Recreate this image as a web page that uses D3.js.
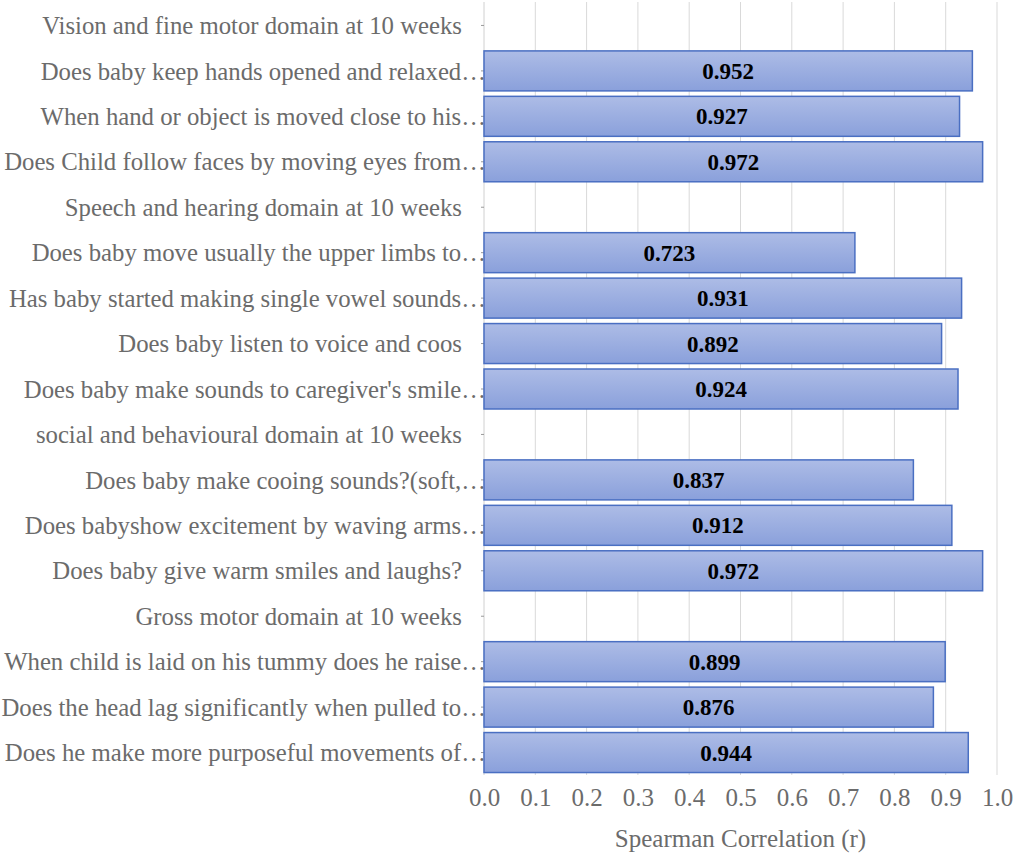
<!DOCTYPE html>
<html>
<head>
<meta charset="utf-8">
<script src="https://cdn.jsdelivr.net/npm/d3@7"></script>
<style>
  body { margin: 0; background: #fff; }
  text { font-family: "Liberation Serif", "Times New Roman", serif; }
</style>
</head>
<body>
<svg id="chart"></svg>
<script>
// rows top to bottom, domain headings have no value
const categories = [
  "Vision and fine motor domain at 10 weeks",
  "Does baby keep hands opened and relaxed…",
  "When hand or object is moved close to his…",
  "Does Child follow faces by moving eyes from…",
  "Speech and hearing domain at 10 weeks",
  "Does baby move usually the upper limbs to…",
  "Has baby started making single vowel sounds…",
  "Does baby listen to voice and coos",
  "Does baby make sounds to caregiver's smile…",
  "social and behavioural domain at 10 weeks",
  "Does baby make cooing sounds?(soft,…",
  "Does babyshow excitement by waving arms…",
  "Does baby give warm smiles and laughs?",
  "Gross motor domain at 10 weeks",
  "When child is laid on his tummy does he raise…",
  "Does the head lag significantly when pulled to…",
  "Does he make more purposeful movements of…"
];
const values = [null, 0.952, 0.927, 0.972, null, 0.723, 0.931, 0.892, 0.924,
                null, 0.837, 0.912, 0.972, null, 0.899, 0.876, 0.944];
const xTicks = [0, 0.1, 0.2, 0.3, 0.4, 0.5, 0.6, 0.7, 0.8, 0.9, 1.0];
const xTitle = "Spearman Correlation (r)";

const width = 1013, height = 856;
const margin = {top: 0, right: 16, bottom: 78, left: 484};

const data = categories.map((c, i) => ({name: c, value: values[i]}));

const svg = d3.select("#chart")
    .attr("width", width)
    .attr("height", height);

const defs = svg.append("defs");
const grad = defs.append("linearGradient")
    .attr("id", "barGrad")
    .attr("x1", 0).attr("y1", 0).attr("x2", 0).attr("y2", 1);
grad.append("stop").attr("offset", "0%").attr("stop-color", "#adbce6");
grad.append("stop").attr("offset", "100%").attr("stop-color", "#8aa0db");

const x = d3.scaleLinear()
    .domain([0, 1])
    .range([margin.left, width - margin.right]);

const y = d3.scaleBand()
    .domain(categories)
    .range([0, 778])
    .padding(0.12);

const plotBottom = 775;

// vertical gridlines
svg.append("g")
    .attr("class", "grid")
  .selectAll("line")
  .data(xTicks.slice(1))
  .join("line")
    .attr("x1", d => x(d)).attr("x2", d => x(d))
    .attr("y1", 2).attr("y2", plotBottom)
    .attr("stroke", "#d9d9d9")
    .attr("stroke-width", 1);

// category axis line
svg.append("line")
    .attr("x1", x(0)).attr("x2", x(0))
    .attr("y1", 2).attr("y2", plotBottom)
    .attr("stroke", "#d0d0d0")
    .attr("stroke-width", 1);

// small tick marks at the category centres
svg.append("g")
  .selectAll("line")
  .data(data)
  .join("line")
    .attr("x1", x(0) - 3).attr("x2", x(0))
    .attr("y1", d => y(d.name) + y.bandwidth() / 2)
    .attr("y2", d => y(d.name) + y.bandwidth() / 2)
    .attr("stroke", "#999")
    .attr("stroke-width", 1);

// bars
const withVal = data.filter(d => d.value != null);
svg.append("g")
    .attr("class", "bars")
  .selectAll("rect")
  .data(withVal)
  .join("rect")
    .attr("x", x(0))
    .attr("y", d => y(d.name))
    .attr("width", d => x(d.value) - x(0))
    .attr("height", y.bandwidth())
    .attr("fill", "url(#barGrad)")
    .attr("stroke", "#4a6fc2")
    .attr("stroke-width", 1.5);

// value labels in the middle of each bar
svg.append("g")
  .selectAll("text")
  .data(withVal)
  .join("text")
    .attr("x", d => (x(0) + x(d.value)) / 2)
    .attr("y", d => y(d.name) + y.bandwidth() / 2)
    .attr("dy", "0.35em")
    .attr("text-anchor", "middle")
    .attr("font-size", 23)
    .attr("font-weight", "bold")
    .attr("fill", "#000")
    .text(d => d.value.toFixed(3));

// category labels
svg.append("g")
  .selectAll("text")
  .data(data)
  .join("text")
    .attr("x", d => d.name.endsWith("…") ? x(0) + 2 : x(0) - 22)
    .attr("y", d => y(d.name) + y.bandwidth() / 2)
    .attr("dy", "0.35em")
    .attr("text-anchor", "end")
    .attr("font-size", 24.75)
    .attr("fill", "#6b6b6b")
    .text(d => d.name);

// x axis labels
const xAxis = g => g
    .attr("transform", `translate(0,${plotBottom})`)
    .call(d3.axisBottom(x).tickValues(xTicks).tickFormat(d3.format(".1f")).tickSize(0).tickPadding(13))
    .call(g => g.select(".domain").remove())
    .call(g => g.selectAll("text")
        .attr("font-size", 25)
        .attr("font-family", "Liberation Serif, Times New Roman, serif")
        .attr("fill", "#6b6b6b"));

svg.append("g").call(xAxis);

svg.append("text")
    .attr("x", (x(0) + x(1)) / 2)
    .attr("y", 847)
    .attr("text-anchor", "middle")
    .attr("font-size", 25)
    .attr("fill", "#6b6b6b")
    .text(xTitle);
</script>
</body>
</html>
